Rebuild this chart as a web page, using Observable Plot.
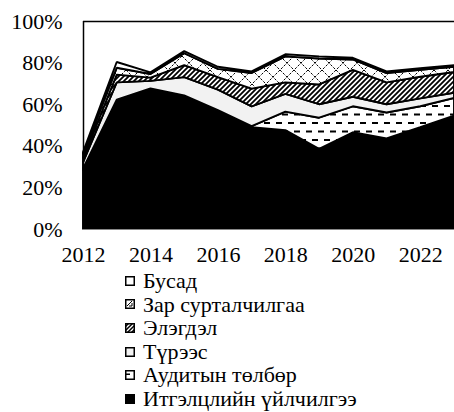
<!DOCTYPE html>
<html>
<head>
<meta charset="utf-8">
<script src="https://cdn.jsdelivr.net/npm/d3@7"></script>
<script src="https://cdn.jsdelivr.net/npm/@observablehq/plot@0.6"></script>
<style>
  body { margin: 0; background: #fff; font-family: 'Liberation Serif', 'Times New Roman', Times, 'DejaVu Serif', serif; }
  #chart svg { display: block; }
  #legend { margin-top: 7px; padding-left: 125px; font-size: 22px; line-height: 23.6px; color: #000; }
  .row { display: flex; align-items: center; height: 23.6px; white-space: nowrap; }
  .row svg { display: block; margin-right: 8px; flex: none; }
</style>
</head>
<body>
<div id="chart"></div>
<div id="legend"></div>
<script>
const years = [2012, 2013, 2014, 2015, 2016, 2017, 2018, 2019, 2020, 2021, 2022, 2023];
const seriesNames = ["Итгэлцлийн үйлчилгээ", "Аудитын төлбөр", "Түрээс", "Элэгдэл", "Зар сурталчилгаа", "Бусад"];
const trust        = [28, 61.5, 67, 63.6, 56.5, 49, 47.5, 38.5, 46.5, 43.6, 49, 54.5];
const audit        = [1, 0.7, 0.6, 0.6, 0.7, 0.5, 8.9, 15, 12.5, 12.4, 10, 8.5];
const rent         = [3, 8.3, 3.6, 8.8, 9.8, 9.5, 8.6, 6.5, 4.6, 4, 3.8, 2.5];
const depreciation = [2, 3.7, 1.6, 5.8, 6, 8.5, 5.5, 9.5, 12.9, 10.5, 10.4, 10];
const ads          = [2, 3.3, 1.7, 5.7, 4, 7.5, 12.5, 12.5, 5, 4.5, 3.3, 2.5];
const other        = [1, 2.8, 0.8, 1, 1, 0.8, 1, 1, 0.8, 0.8, 0.8, 0.8];
const xTicks = [2012, 2014, 2016, 2018, 2020, 2022];
const yTicks = [0, 20, 40, 60, 80, 100];

const seriesValues = [trust, audit, rent, depreciation, ads, other];
const fills = ["#000000", "url(#pat-audit)", "#f2f2f2", "url(#pat-stripes)", "url(#pat-ads)", "#ffffff"];

const data = [];
seriesNames.forEach((name, i) => {
  years.forEach((year, j) => data.push({series: name, year, value: seriesValues[i][j]}));
});

const chart = Plot.plot({
  width: 454,
  height: 262,
  marginTop: 21,
  marginBottom: 33,
  marginLeft: 83,
  marginRight: 0,
  style: {fontFamily: "'Liberation Serif', 'Times New Roman', Times, 'DejaVu Serif', serif", fontSize: "22px", color: "#000", background: "#fff", overflow: "visible"},
  x: {domain: [2012, 2023], ticks: xTicks, tickFormat: d => String(d), tickSize: 0, tickPadding: 17, label: null},
  y: {domain: [0, 100], ticks: yTicks, tickFormat: d => d + "%", tickSize: 0, tickPadding: 21, label: null},
  color: {type: "ordinal", domain: seriesNames, range: fills},
  marks: [
    Plot.areaY(data, {x: "year", y: "value", z: "series", fill: "series", stroke: "#000", strokeWidth: 1.9, strokeLinejoin: "miter"}),
    Plot.ruleY([0], {stroke: "#888", strokeWidth: 1.2}),
    Plot.ruleY([100], {stroke: "#000", strokeWidth: 1.5}),
    Plot.ruleX([2012], {stroke: "#000", strokeWidth: 1.5})
  ]
});

const defs = d3.select(chart).insert("defs", ":first-child");
function addPatterns(d) {
  const pa = d.append("pattern").attr("id", "pat-audit").attr("patternUnits", "userSpaceOnUse").attr("width", 12).attr("height", 17);
  pa.append("rect").attr("width", 12).attr("height", 17).attr("fill", "#fff");
  pa.append("rect").attr("x", 0).attr("y", 3).attr("width", 6).attr("height", 2).attr("fill", "#000");
  pa.append("rect").attr("x", 6).attr("y", 11.5).attr("width", 6).attr("height", 2).attr("fill", "#000");

  const ps = d.append("pattern").attr("id", "pat-stripes").attr("patternUnits", "userSpaceOnUse").attr("width", 5).attr("height", 5);
  ps.append("rect").attr("width", 5).attr("height", 5).attr("fill", "#fff");
  ps.append("path").attr("d", "M0,5L5,0M-1.25,1.25L1.25,-1.25M3.75,6.25L6.25,3.75").attr("stroke", "#000").attr("stroke-width", 1.8).attr("fill", "none");

  const pd = d.append("pattern").attr("id", "pat-ads").attr("patternUnits", "userSpaceOnUse").attr("width", 14).attr("height", 14);
  pd.append("rect").attr("width", 14).attr("height", 14).attr("fill", "#fff");
  pd.append("path").attr("d", "M0,0L14,14M14,0L0,14").attr("stroke", "#000").attr("stroke-width", 1).attr("stroke-dasharray", "2.5,1.5").attr("fill", "none");
}
addPatterns(defs);
document.getElementById("chart").appendChild(chart);

// legend (reverse order of stacking)
const legend = d3.select("#legend");
const legendSvg = legend.append("svg").attr("width", 0).attr("height", 0).style("position", "absolute");
const ldefs = legendSvg.append("defs");
ldefs.append("pattern").attr("id", "leg-audit").attr("patternUnits", "userSpaceOnUse").attr("width", 9).attr("height", 9)
  .call(p => { p.append("rect").attr("width", 9).attr("height", 9).attr("fill", "#fff"); p.append("rect").attr("x", 1).attr("y", 3.5).attr("width", 4).attr("height", 1.5).attr("fill", "#000"); });
ldefs.append("pattern").attr("id", "leg-stripes").attr("patternUnits", "userSpaceOnUse").attr("width", 4).attr("height", 4)
  .call(p => { p.append("rect").attr("width", 4).attr("height", 4).attr("fill", "#fff"); p.append("path").attr("d", "M0,4L4,0M-1,1L1,-1M3,5L5,3").attr("stroke", "#000").attr("stroke-width", 1.5).attr("fill", "none"); });
ldefs.append("pattern").attr("id", "leg-ads").attr("patternUnits", "userSpaceOnUse").attr("width", 9).attr("height", 9)
  .call(p => { p.append("rect").attr("width", 9).attr("height", 9).attr("fill", "#fff"); p.append("path").attr("d", "M2,7L7,2M4,7L7,7M7,4L7,7").attr("stroke", "#000").attr("stroke-width", 1).attr("fill", "none"); });
const legendFills = ["#000", "url(#leg-audit)", "#f2f2f2", "url(#leg-stripes)", "url(#leg-ads)", "#fff"];

seriesNames.slice().reverse().forEach((name) => {
  const i = seriesNames.indexOf(name);
  const row = legend.append("div").attr("class", "row");
  const s = row.append("svg").attr("width", 10).attr("height", 10);
  s.append("rect").attr("x", 0.75).attr("y", 0.75).attr("width", 8.5).attr("height", 8.5)
    .attr("fill", legendFills[i]).attr("stroke", "#000").attr("stroke-width", 1.5);
  row.append("span").text(name);
});
</script>
</body>
</html>
